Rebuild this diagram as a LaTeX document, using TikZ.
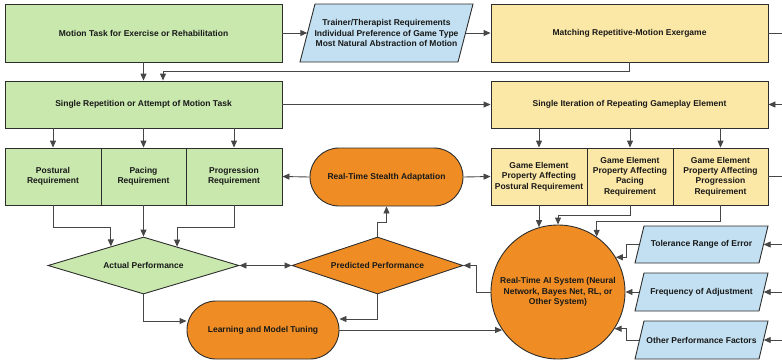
\documentclass[tikz,border=0pt]{standalone}
\usepackage{fontspec}
\setmainfont{Liberation Sans}
\usetikzlibrary{shapes.geometric,arrows.meta,calc}
\definecolor{gfill}{RGB}{200,232,174}
\definecolor{yfill}{RGB}{252,232,166}
\definecolor{bfill}{RGB}{194,224,241}
\definecolor{ofill}{RGB}{239,141,36}
\definecolor{bordc}{RGB}{45,45,45}
\definecolor{linec}{RGB}{70,70,70}
\tikzset{
  txtfont/.style={font=\bfseries\fontsize{8.5}{10.3}\selectfont, text=black!90},
  basebox/.style={draw=bordc, line width=0.9pt, inner sep=0pt, align=center, txtfont},
  gbox/.style={basebox, fill=gfill, rectangle},
  ybox/.style={basebox, fill=yfill, rectangle},
  obox/.style={basebox, fill=ofill, rectangle, rounded corners=29pt},
  gdia/.style={basebox, fill=gfill, diamond},
  odia/.style={basebox, fill=ofill, diamond},
  ocirc/.style={basebox, fill=ofill, circle},
  parafill/.style={draw=bordc, line width=0.9pt, fill=bfill},
  paratext/.style={inner sep=0pt, align=center, txtfont},
  conn/.style={draw=linec, line width=0.9pt},
  arr/.style={conn, -{Triangle[length=7pt,width=6pt]}},
  darr/.style={conn, {Triangle[length=7pt,width=6pt]}-{Triangle[length=7pt,width=6pt]}},
}
% name, cx, cy, half width, half height, half slant, text
\newcommand{\paranode}[7]{%
  \filldraw[parafill] ({#2-#4+#6},{#3-#5}) -- ({#2+#4+#6},{#3-#5}) -- ({#2+#4-#6},{#3+#5}) -- ({#2-#4-#6},{#3+#5}) -- cycle;
  \node[paratext, minimum width={2*#4}, minimum height={2*#5}] (#1) at (#2,#3) {#7};
}
\begin{document}
\begin{tikzpicture}[x=1pt,y=-1pt]
\useasboundingbox (0,0) rectangle (782,360);

% top row
\node[gbox, minimum width=277, minimum height=58] (motion) at (143.5,33) {Motion Task for Exercise or Rehabilitation};
\paranode{pref}{386.5}{33}{79}{29}{7.5}{Trainer/Therapist Requirements\\Individual Preference of Game Type\\Most Natural Abstraction of Motion}
\node[ybox, minimum width=277, minimum height=58] (matching) at (629.5,33) {Matching Repetitive-Motion Exergame};

% second row
\node[gbox, minimum width=277, minimum height=47] (singlerep) at (143.5,104.5) {Single Repetition or Attempt of Motion Task};
\node[ybox, minimum width=277, minimum height=47] (singleiter) at (629.5,104.5) {Single Iteration of Repeating Gameplay Element};

% requirement row
\node[gbox, minimum width=96, minimum height=57] (postural) at (53,176.5) {Postural\\Requirement};
\node[gbox, minimum width=85, minimum height=57] (pacing) at (143.5,176.5) {Pacing\\Requirement};
\node[gbox, minimum width=96, minimum height=57] (progression) at (234,176.5) {Progression\\Requirement};

\node[obox, minimum width=153, minimum height=58] (stealth) at (386.5,177) {Real-Time Stealth Adaptation};

\node[ybox, minimum width=96, minimum height=57] (gpost) at (539,176.5) {Game Element\\Property Affecting\\Postural Requirement};
\node[ybox, minimum width=86, minimum height=57] (gpace) at (630,176.5) {Game Element\\Property Affecting\\Pacing\\Requirement};
\node[ybox, minimum width=95, minimum height=57] (gprog) at (720.5,176.5) {Game Element\\Property Affecting\\Progression\\Requirement};

% diamonds
\node[gdia, shape aspect=3.35, minimum width=191, minimum height=57] (actual) at (143.5,265.5) {Actual Performance};
\node[odia, shape aspect=3.0, minimum width=171, minimum height=57] (pred) at (377.5,265.5) {Predicted Performance};

\node[obox, minimum width=152, minimum height=58] (learning) at (263,330) {Learning and Model Tuning};

\node[ocirc, minimum size=134] (ai) at (558,292) {Real-Time AI System (Neural\\Network, Bayes Net, RL, or\\Other System)};

\paranode{tol}{701.5}{244.5}{62}{18.5}{4.5}{Tolerance Range of Error}
\paranode{freq}{701.5}{292}{62}{19}{4.5}{Frequency of Adjustment}
\paranode{other}{701.5}{340}{62}{19}{4.5}{Other Performance Factors}

% edge coordinates
\coordinate (e1) at (782,33);
\coordinate (e2) at (782,104.5);
\coordinate (e3) at (782,176.5);
\coordinate (e4) at (782,244.5);
\coordinate (e5) at (782,292);
\coordinate (e6) at (782,340);
\coordinate (fb) at (163,71);

% connectors
\draw[arr] (motion.east) -- (pref.west);
\draw[arr] (pref.east) -- (matching.west);
\draw[conn] (matching.east) -- (e1);
\draw[arr] (matching.south) |- (fb) -- (fb |- singlerep.north);
\draw[arr] (motion.south) -- (singlerep.north);
\draw[arr] (singlerep.east) -- (singleiter.west);
\draw[arr] (e2) -- (singleiter.east);

\draw[arr] (postural.north |- singlerep.south) -- (postural.north);
\draw[arr] (pacing.north |- singlerep.south) -- (pacing.north);
\draw[arr] (progression.north |- singlerep.south) -- (progression.north);

\draw[arr] (gpost.north |- singleiter.south) -- (gpost.north);
\draw[arr] (gpace.north |- singleiter.south) -- (gpace.north);
\draw[arr] (gprog.north |- singleiter.south) -- (gprog.north);

\draw[arr] (stealth.west) -- (progression.east);
\draw[arr] (stealth.east) -- (gpost.west);
\draw[conn] (gprog.east) -- (e3);

\coordinate (apl) at ($(actual.west)!0.66!(actual.north)$);
\coordinate (apr) at ($(actual.north)!0.35!(actual.east)$);
\draw[arr] (postural.south) -- ++(0,22) -| (apl);
\draw[arr] (pacing.south) -- (actual.north);
\draw[arr] (progression.south) -- ++(0,22) -| (apr);

\draw[darr] (actual.east) -- (pred.west);
\draw[arr] (pred.north) -- ++(0,-14) -| (stealth.south);

\draw[arr] (actual.south) |- ([yshift=9pt]learning.west);
\draw[arr] (pred.south) |- ([yshift=11pt]learning.east);
\draw[arr] (learning.east) -- (learning.east -| ai.214.6);

\draw[arr] (ai.west) -- ++(-14,0) |- (pred.east);

\draw[arr] (gpost.south) -- (gpost.south |- ai.106.5);
\draw[arr] (gpace.south) -- ++(0,10) -| (ai.north);
\draw[arr] (gprog.south) -- ++(0,16) -| (ai.55.45);

\draw[arr] (tol.west) -- ++(-12.5,0) |- (ai.31.5);
\draw[arr] (freq.west) -- (ai.east);
\draw[arr] (other.west) -- ++(-12.5,0) |- (ai.-33.5);

\draw[arr] (e4) -- (tol.east);
\draw[arr] (e5) -- (freq.east);
\draw[arr] (e6) -- (other.east);
\end{tikzpicture}
\end{document}
